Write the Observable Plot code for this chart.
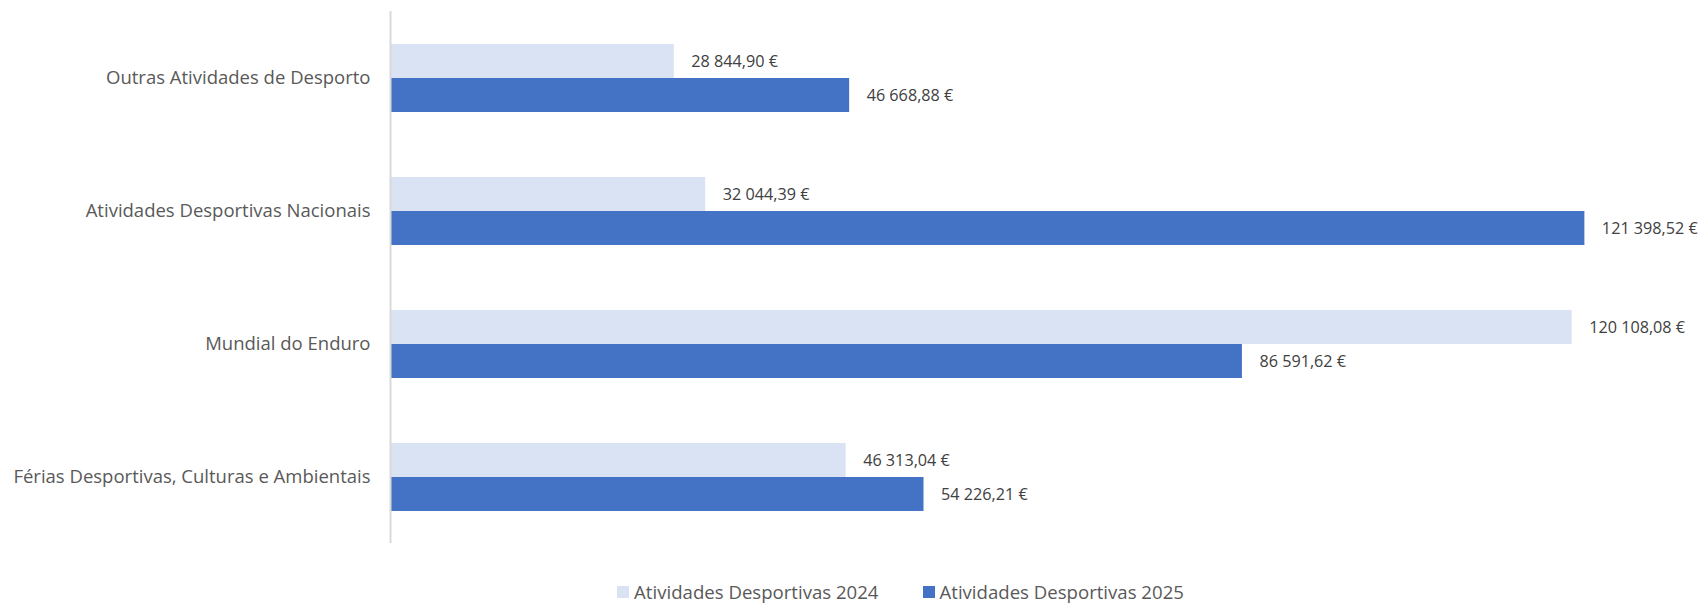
<!DOCTYPE html>
<html>
<head>
<meta charset="utf-8">
<script src="https://cdn.jsdelivr.net/npm/d3@7"></script>
<script src="https://cdn.jsdelivr.net/npm/@observablehq/plot@0.6"></script>
<style>
  html, body { margin: 0; padding: 0; background: #fff; }
  body { width: 1701px; height: 603px; overflow: hidden; font-family: "Open Sans", sans-serif; }
  #legend { display: flex; justify-content: center; gap: 44px; margin-top: 11px; font-size: 18.6px; color: #595959; line-height: 22px; padding-left: 100px; }
  #legend .item { display: flex; align-items: center; gap: 5px; }
  #legend .sw { width: 12px; height: 12px; display: inline-block; }
</style>
</head>
<body>
<div id="chart"></div>
<div id="legend"></div>
<script>
const categories = ["Outras Atividades de Desporto", "Atividades Desportivas Nacionais", "Mundial do Enduro", "Férias Desportivas, Culturas e Ambientais"];
const series = ["Atividades Desportivas 2024", "Atividades Desportivas 2025"];
const values2024 = [28844.90, 32044.39, 120108.08, 46313.04];
const values2025 = [46668.88, 121398.52, 86591.62, 54226.21];
const colors = ["#DAE3F3", "#4472C4"];

const data = [];
categories.forEach((c, i) => {
  data.push({category: c, series: series[0], value: values2024[i]});
  data.push({category: c, series: series[1], value: values2025[i]});
});

const locale = d3.formatLocale({decimal: ",", thousands: " ", grouping: [3], currency: ["", " €"]});
const fmt = locale.format("$,.2f");

const chart = Plot.plot({
  width: 1701,
  height: 570,
  marginLeft: 390,
  marginRight: 32,
  marginTop: 11,
  marginBottom: 27,
  style: {fontFamily: "Open Sans, sans-serif", background: "#fff"},
  x: {domain: [0, 130000], axis: null},
  y: {domain: series, axis: null, paddingInner: 0, paddingOuter: 0.913},
  fy: {domain: categories, padding: 0, label: null},
  color: {domain: series, range: colors},
  marks: [
    Plot.axisFy({anchor: "left", tickSize: 0, tickPadding: 20, fontSize: 18.5, color: "#595959", label: null}),
    Plot.barX(data, {x: "value", y: "series", fy: "category", fill: "series"}),
    Plot.ruleX([0], {stroke: "#D9D9D9", strokeWidth: 2}),
    Plot.text(data, {x: "value", y: "series", fy: "category", text: d => fmt(d.value), textAnchor: "start", dx: 17, fontSize: 16.2, fill: "#404040"})
  ]
});
document.getElementById("chart").appendChild(chart);

const legend = document.getElementById("legend");
series.forEach((s, i) => {
  const item = document.createElement("div");
  item.className = "item";
  const sw = document.createElement("span");
  sw.className = "sw";
  sw.style.background = colors[i];
  const t = document.createElement("span");
  t.textContent = s;
  item.appendChild(sw);
  item.appendChild(t);
  legend.appendChild(item);
});
</script>
</body>
</html>
